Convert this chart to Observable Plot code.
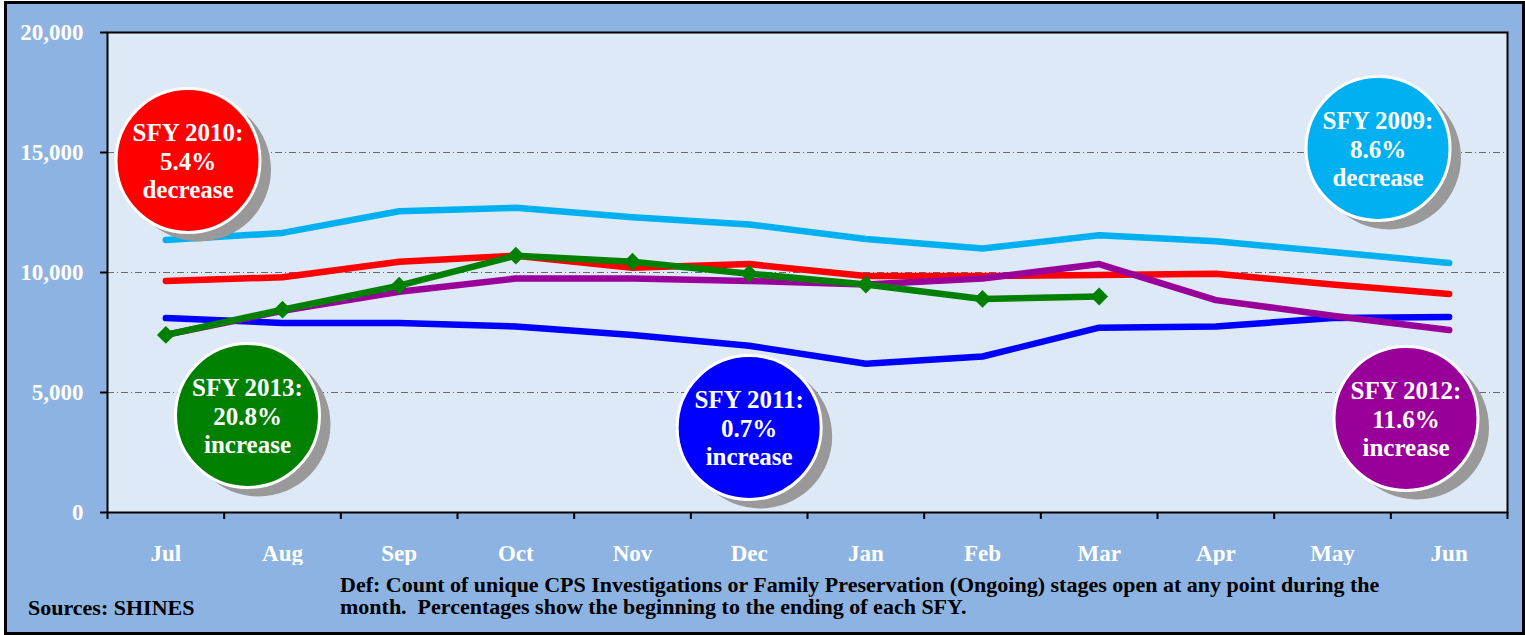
<!DOCTYPE html>
<html>
<head>
<meta charset="utf-8">
<script src="https://cdn.jsdelivr.net/npm/d3@7"></script>
<script src="https://cdn.jsdelivr.net/npm/@observablehq/plot@0.6"></script>
<style>
  html, body { margin: 0; padding: 0; background: white; }
  #wrap { position: relative; width: 1525px; height: 635px; overflow: hidden; background: white; }
  #box { position: absolute; left: 4px; top: 1px; width: 1515px; height: 628px; border: 3px solid black; background: #8db3e2; }
  #chart { position: absolute; left: 0; top: 0; }
  .cap { position: absolute; font-family: "Liberation Serif", "Times New Roman", serif; font-weight: bold; font-size: 22px; line-height: 22px; color: black; white-space: pre; }
</style>
</head>
<body>
<div id="wrap">
  <div id="box"></div>
  <div id="chart"></div>
  <div class="cap" id="def" style="left:340px; top:574px;"></div>
  <div class="cap" id="src" style="left:28px; top:597px;"></div>
</div>
<script>
const months = ["Jul","Aug","Sep","Oct","Nov","Dec","Jan","Feb","Mar","Apr","May","Jun"];
const sfy2009 = [11350, 11650, 12550, 12700, 12300, 12000, 11400, 11000, 11550, 11300, 10850, 10400];
const sfy2010 = [9650, 9800, 10450, 10700, 10200, 10350, 9850, 9850, 9900, 9950, 9500, 9100];
const sfy2011 = [8100, 7900, 7900, 7750, 7400, 6950, 6200, 6500, 7700, 7750, 8100, 8150];
const sfy2012 = [7400, 8400, 9200, 9750, 9750, 9650, 9500, 9750, 10350, 8850, 8200, 7600];
const sfy2013 = [7400, 8450, 9450, 10700, 10450, 9950, 9500, 8900, 9000];
const yTicks = [0, 5000, 10000, 15000, 20000];
const gridValues = [5000, 10000, 15000];

const noteLabels = ["SFY 2010:\n5.4%\ndecrease", "SFY 2009:\n8.6%\ndecrease", "SFY 2013:\n20.8%\nincrease", "SFY 2011:\n0.7%\nincrease", "SFY 2012:\n11.6%\nincrease"];
const noteMonthPos = [0.19, 10.39, 0.70, 5.0, 10.63];
const noteValues = [14667, 15167, 4042, 3542, 3917];
const noteColors = ["#ff0000", "#00b0f0", "#008000", "#0000ff", "#990099"];

const defText = "Def: Count of unique CPS Investigations or Family Preservation (Ongoing) stages open at any point during the\nmonth.  Percentages show the beginning to the ending of each SFY.";
const srcText = "Sources: SHINES";

const toRows = (vals) => vals.map((v, i) => ({i, v}));
const notes = noteLabels.map((t, k) => ({t, x: noteMonthPos[k], y: noteValues[k], c: noteColors[k]}));

const lineOpts = (color) => ({x: "i", y: "v", stroke: color, strokeWidth: 6.5, strokeLinecap: "round", strokeLinejoin: "round"});

const chart = Plot.plot({
  width: 1525,
  height: 565,
  marginLeft: 107,
  marginRight: 18,
  marginTop: 32,
  marginBottom: 53,
  x: {type: "linear", domain: [-0.5, 11.5], axis: null},
  y: {domain: [0, 20000], axis: null},
  color: {type: "identity"},
  style: {background: "transparent", fontFamily: "'Liberation Serif', 'Times New Roman', serif", fontWeight: "bold", fontSize: "23px"},
  marks: [
    Plot.frame({fill: "#dde9f7"}),
    Plot.ruleY(gridValues, {stroke: "#6a6a6a", strokeWidth: 1, strokeDasharray: "7,3,1,3"}),
    Plot.line(toRows(sfy2009), lineOpts("#00b0f0")),
    Plot.line(toRows(sfy2011), lineOpts("#0000ff")),
    Plot.line(toRows(sfy2010), lineOpts("#ff0000")),
    Plot.line(toRows(sfy2012), lineOpts("#990099")),
    Plot.line(toRows(sfy2013), lineOpts("#008000")),
    Plot.dot(toRows(sfy2013), {x: "i", y: "v", symbol: "diamond2", r: 8, fill: "#008000"}),
    Plot.dot(notes, {x: "x", y: "y", r: 72, fill: "#999999", dx: 11, dy: 9}),
    Plot.dot(notes, {x: "x", y: "y", r: 72, fill: "c", stroke: "white", strokeWidth: 3}),
    Plot.text(notes, {x: "x", y: "y", text: "t", fill: "white", fontSize: 25, fontWeight: "bold", lineHeight: 1.14}),
    Plot.frame({stroke: "black", strokeWidth: 2}),
    Plot.axisY(yTicks, {anchor: "left", tickSize: 7, tickPadding: 17, strokeWidth: 2, stroke: "black", fill: "white", tickFormat: d3.format(",")}),
    Plot.axisX(d3.range(13).map(i => i - 0.5), {anchor: "bottom", tickSize: 7, strokeWidth: 2, stroke: "black", tickFormat: () => ""}),
    Plot.axisX(d3.range(12), {anchor: "bottom", tickSize: 0, tickPadding: 32, fill: "white", tickFormat: i => months[i]})
  ]
});
document.getElementById("chart").appendChild(chart);
document.getElementById("def").textContent = defText;
document.getElementById("src").textContent = srcText;
</script>
</body>
</html>
